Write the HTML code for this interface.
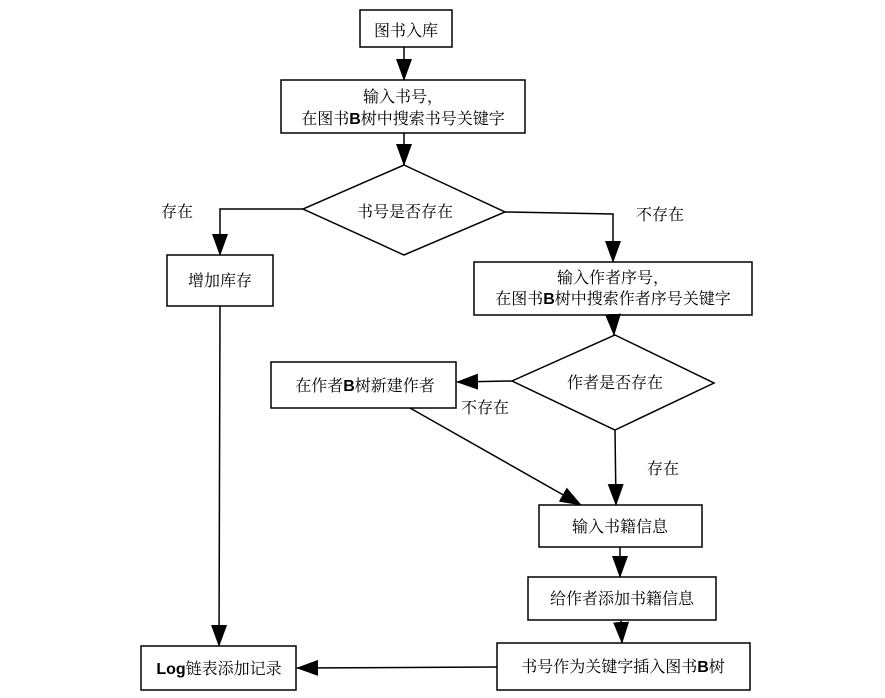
<!DOCTYPE html>
<html><head><meta charset="utf-8"><style>
html,body{margin:0;padding:0;background:#fff;}
svg text{font-family:"Liberation Serif","Noto Serif CJK SC",serif;font-size:16px;fill:#000;}
.b{font-family:"Liberation Sans","Noto Sans CJK SC",sans-serif;font-weight:bold;}
</style></head><body>
<svg width="885" height="693" viewBox="0 0 885 693" xmlns="http://www.w3.org/2000/svg">
<defs><marker id="a" markerWidth="22" markerHeight="16" refX="21" refY="8" orient="auto" markerUnits="userSpaceOnUse"><path d="M0,0 L22,8 L0,16 Z" fill="#000"/></marker></defs>
<g fill="#fff" stroke="#000" stroke-width="1.5">
<rect x="360" y="10" width="92" height="37"/>
<rect x="281" y="80" width="244" height="53"/>
<polygon points="404,165 505,212 404,255 303,209"/>
<rect x="167" y="255" width="106" height="51"/>
<rect x="474" y="262" width="278" height="53"/>
<polygon points="615,335 714,383 615,430 512,381"/>
<rect x="271" y="362" width="185" height="46"/>
<rect x="539" y="505" width="163" height="42"/>
<rect x="528" y="577" width="188" height="43"/>
<rect x="497" y="643" width="253" height="47"/>
<rect x="141" y="646" width="155" height="44"/>
</g>
<g fill="none" stroke="#000" stroke-width="1.5" marker-end="url(#a)">
<line x1="404" y1="47" x2="404" y2="80"/>
<line x1="404" y1="133" x2="404" y2="165"/>
<polyline points="303,209 220,209 220,255"/>
<polyline points="505,212 613,214 613,262"/>
<line x1="613" y1="315" x2="614" y2="335"/>
<line x1="512" y1="381" x2="457" y2="382"/>
<line x1="410" y1="408" x2="581" y2="505"/>
<line x1="615" y1="430" x2="616" y2="505"/>
<line x1="620" y1="547" x2="620" y2="577"/>
<line x1="621" y1="620" x2="622" y2="643"/>
<line x1="497" y1="667" x2="297" y2="668"/>
<line x1="220" y1="306" x2="219" y2="646"/>
</g>
<g text-anchor="middle">
<text x="406" y="36">图书入库</text>
<text x="403" y="102">输入书号，</text>
<text x="403" y="124">在图书<tspan class="b">B</tspan>树中搜索书号关键字</text>
<text x="405" y="217">书号是否存在</text>
<text x="177" y="217">存在</text>
<text x="660" y="220">不存在</text>
<text x="220" y="286">增加库存</text>
<text x="613" y="283">输入作者序号，</text>
<text x="613" y="304">在图书<tspan class="b">B</tspan>树中搜索作者序号关键字</text>
<text x="615" y="388">作者是否存在</text>
<text x="365" y="391">在作者<tspan class="b">B</tspan>树新建作者</text>
<text x="485" y="413">不存在</text>
<text x="663" y="474">存在</text>
<text x="620" y="532">输入书籍信息</text>
<text x="622" y="604">给作者添加书籍信息</text>
<text x="623" y="672">书号作为关键字插入图书<tspan class="b">B</tspan>树</text>
<text x="219" y="674"><tspan class="b">Log</tspan>链表添加记录</text>
</g>
</svg>
</body></html>
